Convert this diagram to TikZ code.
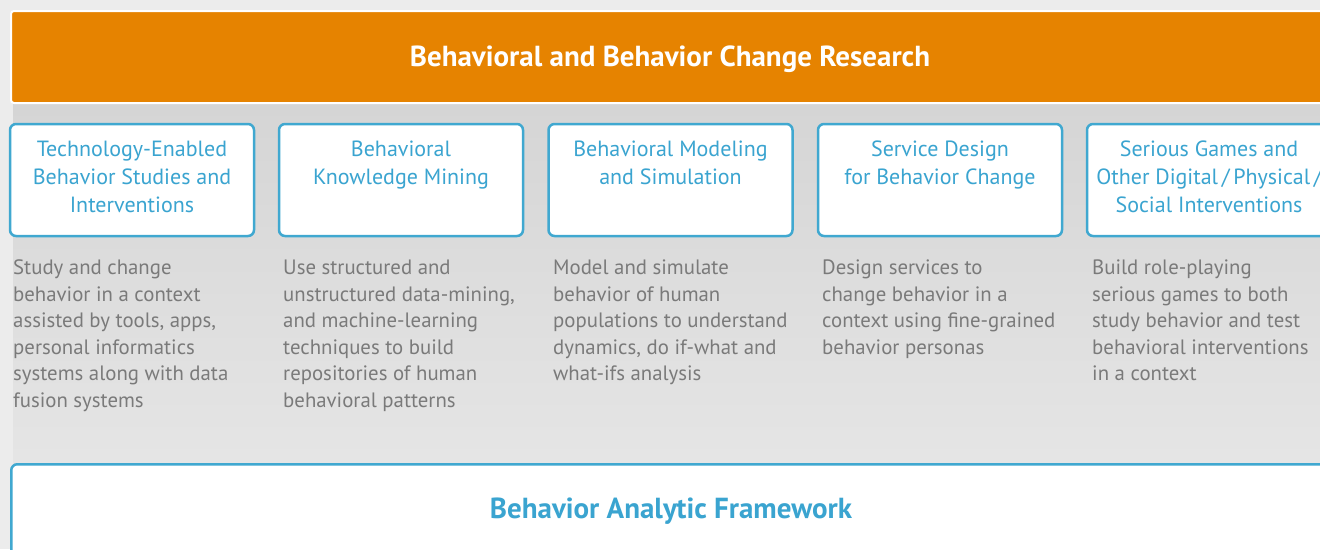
\documentclass[tikz,border=0pt]{standalone}
\usepackage{fontspec}
\setmainfont{PT Sans}
\definecolor{outerbg}{RGB}{236,236,236}
\definecolor{paneltop}{RGB}{211,211,211}
\definecolor{panelbot}{RGB}{233,233,233}
\definecolor{barorange}{RGB}{230,131,0}
\definecolor{boxblue}{RGB}{64,168,208}
\definecolor{textblue}{RGB}{58,164,208}
\definecolor{descgray}{RGB}{122,122,122}
\tikzset{
  topicbox/.style={draw=boxblue, line width=2.5pt, fill=white, rounded corners=6pt,
    minimum width=244pt, minimum height=112pt, inner sep=0pt},
  topictext/.style={anchor=base, align=center, text=textblue, inner sep=0pt,
    font=\fontsize{22}{28}\selectfont},
  desctext/.style={anchor=base west, align=left, text=descgray, inner sep=0pt,
    font=\fontsize{20.8}{26.6}\selectfont},
  titletext/.style={anchor=base, inner sep=0pt, font=\bfseries\fontsize{29}{34}\selectfont},
}
\begin{document}
\begin{tikzpicture}[x=1pt,y=-1pt]
\useasboundingbox (0,0) rectangle (1320,549);
\begin{scope}
\clip (0,0) rectangle (1320,549);
\fill[outerbg] (0,0) rectangle (1320,549);
\shade[top color=paneltop, bottom color=panelbot] (13,60) rectangle (1340,549);
% header bar
\node[draw=white, line width=2pt, fill=barorange, rounded corners=3pt,
  minimum width=1340pt, minimum height=92pt, inner sep=0pt, anchor=north west] (bar) at (10,10) {};
\node[titletext, text=white] (bartitle) at (670,66) {Behavioral and Behavior Change Research};
% topic boxes
\node[topicbox] (b1) at (132,180) {};
\node[topicbox] (b2) at (401,180) {};
\node[topicbox] (b3) at (670.5,180) {};
\node[topicbox] (b4) at (940,180) {};
\node[topicbox] (b5) at (1209,180) {};
% (multi-line nodes: base anchor = baseline of last line)
\node[topictext] (t1) at (132,212) {Technology-Enabled\\Behavior Studies and\\Interventions};
\node[topictext] (t2) at (401,184) {Behavioral\\Knowledge Mining};
\node[topictext] (t3) at (670.5,184) {Behavioral Modeling\\and Simulation};
\node[topictext] (t4) at (940,184) {Service Design\\for Behavior Change};
\node[topictext] (t5) at (1209,212) {Serious Games and\\Other Digital\,/\,Physical\,/\\Social Interventions};
% descriptions
\node[desctext] (d1) at (13,407.5) {Study and change\\behavior in a context\\assisted by tools, apps,\\personal informatics\\systems along with data\\fusion systems};
\node[desctext] (d2) at (283,407.5) {Use structured and\\unstructured data-mining,\\and machine-learning\\techniques to build\\repositories of human\\behavioral patterns};
\node[desctext] (d3) at (553,380.9) {Model and simulate\\behavior of human\\populations to understand\\dynamics, do if-what and\\what-ifs analysis};
\node[desctext] (d4) at (822,354.3) {Design services to\\change behavior in a\\context using fine-grained\\behavior personas};
\node[desctext] (d5) at (1092,380.9) {Build role-playing\\serious games to both\\study behavior and test\\behavioral interventions\\in a context};
% bottom framework box
\node[draw=boxblue, line width=2.5pt, fill=white, rounded corners=6pt,
  minimum width=1340pt, minimum height=120pt, inner sep=0pt, anchor=north west] (fw) at (10,463) {};
\node[titletext, text=textblue] (fwtitle) at (671,518) {Behavior Analytic Framework};
\end{scope}
\end{tikzpicture}
\end{document}
